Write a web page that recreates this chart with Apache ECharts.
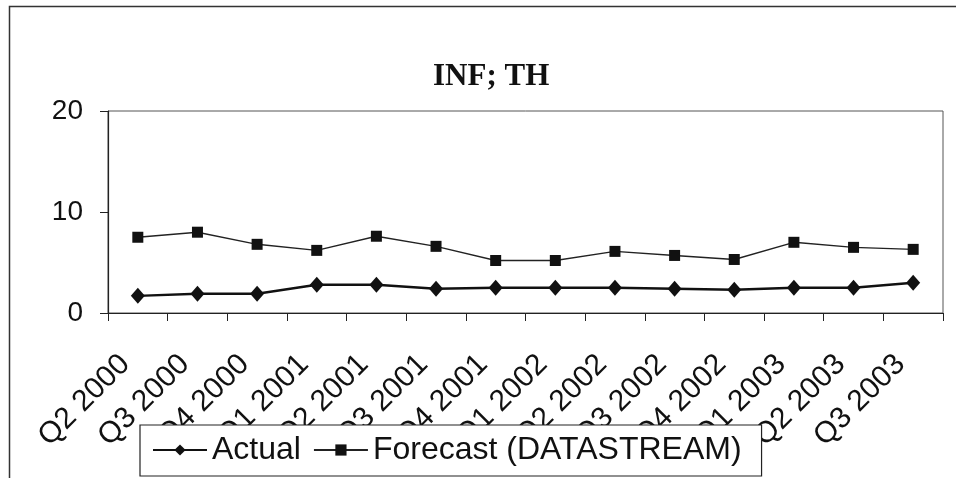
<!DOCTYPE html>
<html>
<head>
<meta charset="utf-8">
<script src="https://cdn.jsdelivr.net/npm/echarts@6/dist/echarts.min.js"></script>
<style>
html,body{margin:0;padding:0;background:#fff;}
#chart{width:956px;height:478px;}
</style>
</head>
<body>
<div id="chart"></div>
<script>
var categories = ['Q2 2000','Q3 2000','Q4 2000','Q1 2001','Q2 2001','Q3 2001','Q4 2001','Q1 2002','Q2 2002','Q3 2002','Q4 2002','Q1 2003','Q2 2003','Q3 2003'];
var actual = [1.7, 1.9, 1.9, 2.8, 2.8, 2.4, 2.5, 2.5, 2.5, 2.4, 2.3, 2.5, 2.5, 3.0];
var forecast = [7.5, 8.0, 6.8, 6.2, 7.6, 6.6, 5.2, 5.2, 6.1, 5.7, 5.3, 7.0, 6.5, 6.3];
var yTicks = [0, 10, 20];

var chart = echarts.init(document.getElementById('chart'), null, {renderer:'canvas'});
var option = {
  backgroundColor: '#fff',
  animation: false,
  title: {
    text: 'INF; TH',
    left: 428,
    top: 56,
    textStyle: {fontFamily: 'Liberation Serif', fontWeight: 'bold', fontSize: 31, color: '#111'}
  },
  graphic: [{
    type: 'rect',
    shape: {x: 9.5, y: 6.5, width: 1000, height: 600},
    style: {fill: 'none', stroke: '#333', lineWidth: 1.5},
    silent: true, z: -1
  }],
  legend: {
    left: 140, top: 425,
    padding: [9, 20, 10, 12],
    backgroundColor: '#fff',
    borderColor: '#222', borderWidth: 1.2,
    itemWidth: 54, itemHeight: 14, itemGap: 12,
    textStyle: {fontFamily: 'Liberation Sans', fontSize: 32, color: '#111'},
    data: ['Actual', 'Forecast (DATASTREAM)'],
    z: 10
  },
  grid: {
    left: 108, top: 111, right: 13, bottom: 165,
    show: true, borderColor: '#555', borderWidth: 1, backgroundColor: 'transparent'
  },
  xAxis: {
    type: 'category',
    data: categories,
    boundaryGap: true,
    axisLine: {lineStyle: {color: '#222', width: 1.2}},
    axisTick: {show: true, length: 8, lineStyle: {color: '#222'}},
    axisLabel: {
      rotate: 45, interval: 0, margin: 34,
      padding: [0, 18, 0, 0],
      fontFamily: 'Liberation Sans', fontSize: 30, color: '#111'
    },
    splitLine: {show: false}
  },
  yAxis: {
    type: 'value',
    min: yTicks[0], max: yTicks[yTicks.length-1], interval: 10,
    axisLine: {show: true, lineStyle: {color: '#222', width: 1.2}},
    axisTick: {show: true, length: 8, lineStyle: {color: '#222'}},
    axisLabel: {margin: 25, fontFamily: 'Liberation Sans', fontSize: 28, color: '#111'},
    splitLine: {show: false}
  },
  series: [{
    name: 'Actual',
    type: 'line',
    data: actual,
    symbol: 'diamond',
    symbolSize: [14, 16],
    lineStyle: {color: '#111', width: 2.4},
    itemStyle: {color: '#111'},
    z: 3
  }, {
    name: 'Forecast (DATASTREAM)',
    type: 'line',
    data: forecast,
    symbol: 'rect',
    symbolSize: 11,
    lineStyle: {color: '#222', width: 1.4},
    itemStyle: {color: '#111'},
    z: 3
  }]
};
chart.setOption(option);
</script>
</body>
</html>
